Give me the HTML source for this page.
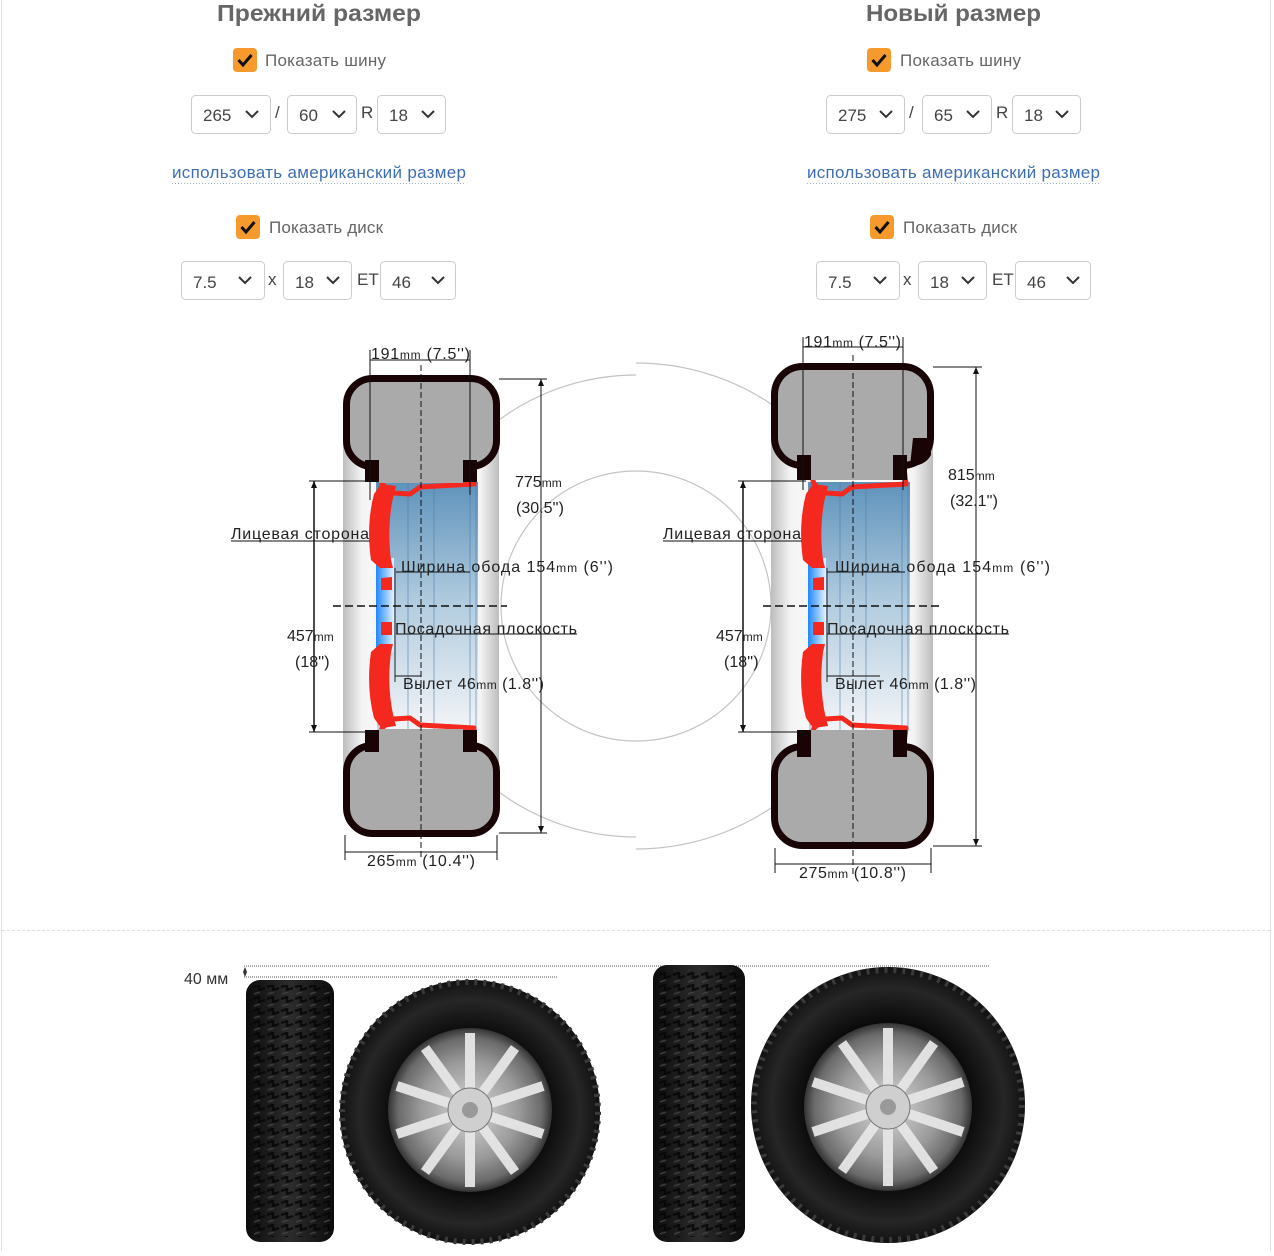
<!DOCTYPE html>
<html><head><meta charset="utf-8"><style>
html,body{margin:0;padding:0;background:#fff;}
body{width:1274px;height:1251px;overflow:hidden;position:relative;font-family:"Liberation Sans",sans-serif;}
</style></head><body>
<svg width="1274" height="1251" viewBox="0 0 1274 1251" xmlns="http://www.w3.org/2000/svg" font-family="Liberation Sans, sans-serif">
<defs>
<linearGradient id="side" x1="0" x2="1" y1="0" y2="0"><stop offset="0" stop-color="#bdbdbd"/><stop offset="0.12" stop-color="#f4f4f4"/><stop offset="0.5" stop-color="#fff"/><stop offset="0.88" stop-color="#f4f4f4"/><stop offset="1" stop-color="#bdbdbd"/></linearGradient>
<linearGradient id="blue" x1="0" x2="0" y1="0" y2="1"><stop offset="0" stop-color="#5f93bb"/><stop offset="0.5" stop-color="#b3cde0"/><stop offset="1" stop-color="#f2f4f7"/></linearGradient>
<linearGradient id="bb" x1="0" x2="1" y1="0" y2="0"><stop offset="0" stop-color="#1e88ff"/><stop offset="1" stop-color="#e6f2ff"/></linearGradient>
<radialGradient id="rim" cx="0.5" cy="0.5" r="0.5"><stop offset="0" stop-color="#d8d8d8"/><stop offset="0.6" stop-color="#9a9a9a"/><stop offset="0.88" stop-color="#6a6a6a"/><stop offset="1" stop-color="#333"/></radialGradient>
<radialGradient id="tyre" cx="0.5" cy="0.5" r="0.5"><stop offset="0.6" stop-color="#0a0a0a"/><stop offset="0.85" stop-color="#262626"/><stop offset="1" stop-color="#111"/></radialGradient>
<linearGradient id="tread" x1="0" x2="1"><stop offset="0" stop-color="#0c0c0c"/><stop offset="0.5" stop-color="#2c2c2c"/><stop offset="1" stop-color="#0c0c0c"/></linearGradient>
<pattern id="tp" width="14" height="12" patternUnits="userSpaceOnUse"><path d="M1 3 L7 1 L7 6 L13 4" stroke="#050505" stroke-width="2.5" fill="none"/><path d="M2 10 L8 8" stroke="#444" stroke-width="1.5"/></pattern>
<g id="wheel">
 <rect x="376" y="482" width="102" height="248" fill="url(#blue)"/>
 <g stroke="#4b79a8" stroke-width="0.8" opacity="0.7"><line x1="378" y1="482" x2="378" y2="730"/><line x1="408" y1="482" x2="408" y2="730"/><line x1="434" y1="482" x2="434" y2="730"/><line x1="470" y1="482" x2="470" y2="730"/><line x1="476" y1="482" x2="476" y2="730"/></g>
 <rect x="376" y="558" width="18" height="94" fill="url(#bb)"/>
 <g fill="none" stroke="#f4281e" stroke-width="5" stroke-linejoin="round">
  <path d="M472 468 L474 484 L420 487 L410 494 L393 493 L382 484 L378 470"/>
  <path d="M472 744 L474 728 L420 725 L410 718 L393 719 L382 728 L378 742"/>
 </g>
 <g fill="#f4281e">
  <path d="M381 484 L396 486 Q386 520 391 560 L393 568 L380 568 L371 560 Q366 525 374 494 Z"/>
  <path d="M381 728 L396 726 Q386 692 391 652 L393 644 L380 644 L371 652 Q366 687 374 718 Z"/>
  <path d="M381 578 L392 577 L392 590 L381 590 Z"/>
  <path d="M381 622 L392 622 L392 635 L381 635 Z"/>
 </g>
 <line x1="395" y1="568" x2="395" y2="682" stroke="#222" stroke-width="1"/>
</g>
</defs>

<line x1="1.5" y1="0" x2="1.5" y2="1251" stroke="#e3e3e3"/>
<line x1="1270.5" y1="0" x2="1270.5" y2="1251" stroke="#e3e3e3"/>
<line x1="2" y1="930.5" x2="1270" y2="930.5" stroke="#ddd" stroke-dasharray="3,2"/>

<g font-weight="bold" font-size="23" fill="#666">
<text x="217" y="21" textLength="204" lengthAdjust="spacingAndGlyphs">Прежний размер</text>
<text x="866" y="21" textLength="175" lengthAdjust="spacingAndGlyphs">Новый размер</text>
</g>

<g font-size="17" fill="#666">
 <rect x="233" y="48" width="24" height="24" rx="4" fill="#f79a2d"/><path d="M238.5 60 L243 65 L251.5 55" stroke="#111" stroke-width="3" fill="none"/>
 <text x="265" y="66" textLength="121">Показать шину</text>
 <rect x="236" y="215" width="24" height="24" rx="4" fill="#f79a2d"/><path d="M241.5 227 L246 232 L254.5 222" stroke="#111" stroke-width="3" fill="none"/>
 <text x="269" y="233" textLength="114">Показать диск</text>
 <rect x="867" y="48" width="24" height="24" rx="4" fill="#f79a2d"/><path d="M872.5 60 L877 65 L885.5 55" stroke="#111" stroke-width="3" fill="none"/>
 <text x="900" y="66" textLength="121">Показать шину</text>
 <rect x="870" y="215" width="24" height="24" rx="4" fill="#f79a2d"/><path d="M875.5 227 L880 232 L888.5 222" stroke="#111" stroke-width="3" fill="none"/>
 <text x="903" y="233" textLength="114">Показать диск</text>
</g>
<g fill="#fff" stroke="#ccc">
 <rect x="191.5" y="95.5" width="79" height="38" rx="4"/><rect x="287.5" y="95.5" width="69" height="38" rx="4"/><rect x="377.5" y="95.5" width="68" height="38" rx="4"/>
 <rect x="181.5" y="261.5" width="83" height="38" rx="4"/><rect x="283.5" y="261.5" width="68" height="38" rx="4"/><rect x="380.5" y="261.5" width="75" height="38" rx="4"/>
 <rect x="826.5" y="95.5" width="78" height="38" rx="4"/><rect x="922.5" y="95.5" width="69" height="38" rx="4"/><rect x="1012.5" y="95.5" width="68" height="38" rx="4"/>
 <rect x="816.5" y="261.5" width="83" height="38" rx="4"/><rect x="918.5" y="261.5" width="68" height="38" rx="4"/><rect x="1015.5" y="261.5" width="75" height="38" rx="4"/>
</g>
<g font-size="17" fill="#444">
 <text x="203" y="121">265</text><text x="299" y="121">60</text><text x="389" y="121">18</text>
 <text x="193" y="288">7.5</text><text x="295" y="288">18</text><text x="392" y="288">46</text>
 <text x="838" y="121">275</text><text x="934" y="121">65</text><text x="1024" y="121">18</text>
 <text x="828" y="288">7.5</text><text x="930" y="288">18</text><text x="1027" y="288">46</text>
 <text x="275" y="118">/</text><text x="361" y="118">R</text><text x="268" y="285">x</text><text x="357" y="285">ET</text>
 <text x="909" y="118">/</text><text x="996" y="118">R</text><text x="903" y="285">x</text><text x="992" y="285">ET</text>
</g>
<g fill="none" stroke="#333" stroke-width="2">
 <path d="M246 111 L252 117 L258 111"/><path d="M333 111 L339 117 L345 111"/><path d="M422 111 L428 117 L434 111"/>
 <path d="M239 277 L245 283 L251 277"/><path d="M327 277 L333 283 L339 277"/><path d="M432 277 L438 283 L444 277"/>
 <path d="M880 111 L886 117 L892 111"/><path d="M967 111 L973 117 L979 111"/><path d="M1056 111 L1062 117 L1068 111"/>
 <path d="M874 277 L880 283 L886 277"/><path d="M962 277 L968 283 L974 277"/><path d="M1067 277 L1073 283 L1079 277"/>
</g>
<g font-size="17" fill="#3d6eb4">
 <text x="172" y="178" textLength="294">использовать американский размер</text>
 <text x="807" y="178" textLength="293">использовать американский размер</text>
</g>
<line x1="172" y1="183.5" x2="466" y2="183.5" stroke="#9bb3d6" stroke-dasharray="1,2"/>
<line x1="807" y1="183.5" x2="1100" y2="183.5" stroke="#9bb3d6" stroke-dasharray="1,2"/>

<g fill="none" stroke="#c4c4c4" stroke-width="1.2">
 <path d="M636 375 A231 231 0 0 0 636 837"/>
 <path d="M636 363 A243 243 0 0 1 636 849"/>
 <path d="M636 471 A135 135 0 0 0 636 741"/>
 <path d="M636 471 A135 135 0 0 1 636 741"/>
</g>

<rect x="343" y="420" width="156" height="370" fill="url(#side)"/>
<use href="#wheel"/>
<rect x="346.5" y="378.5" width="150" height="88" rx="26" fill="#aaa" stroke="#180404" stroke-width="7"/>
<rect x="346.5" y="745.5" width="150" height="88" rx="26" fill="#aaa" stroke="#180404" stroke-width="7"/>
<g fill="#180404"><rect x="365" y="460" width="14" height="22"/><rect x="463" y="460" width="14" height="22"/><rect x="365" y="730" width="14" height="22"/><rect x="463" y="730" width="14" height="22"/></g>
<rect x="379" y="460" width="84" height="23" fill="#aaa"/><rect x="379" y="729" width="84" height="23" fill="#aaa"/>

<rect x="771" y="410" width="162" height="390" fill="url(#side)"/>
<use href="#wheel" x="432"/>
<rect x="774.5" y="366.5" width="156" height="99" rx="28" fill="#aaa" stroke="#180404" stroke-width="7"/>
<rect x="774.5" y="746.5" width="156" height="99" rx="28" fill="#aaa" stroke="#180404" stroke-width="7"/>
<path d="M913 438 L931 438 L931 455 Q925 466 910 466 Z" fill="#180404"/>
<g fill="#180404"><rect x="797" y="455" width="14" height="25"/><rect x="893" y="455" width="14" height="25"/><rect x="797" y="730" width="14" height="27"/><rect x="893" y="730" width="14" height="27"/></g>
<rect x="811" y="455" width="82" height="25" fill="#aaa"/><rect x="811" y="730" width="82" height="26" fill="#aaa"/>

<g stroke="#111" stroke-width="1" fill="none">
 <line x1="421" y1="365" x2="421" y2="860" stroke-dasharray="6,3"/>
 <line x1="853" y1="355" x2="853" y2="875" stroke-dasharray="6,3"/>
 <line x1="333" y1="606" x2="507" y2="606" stroke-dasharray="8,4" stroke-width="1.5"/>
 <line x1="763" y1="606" x2="940" y2="606" stroke-dasharray="8,4" stroke-width="1.5"/>
 <line x1="370" y1="350" x2="370" y2="500"/><line x1="470" y1="350" x2="470" y2="495"/>
 <line x1="370" y1="360" x2="470" y2="360"/>
 <line x1="499" y1="379" x2="547" y2="379"/><line x1="499" y1="833" x2="547" y2="833"/>
 <line x1="541" y1="379" x2="541" y2="833"/>
 <line x1="309" y1="481" x2="375" y2="481"/><line x1="309" y1="732" x2="375" y2="732"/>
 <line x1="314" y1="481" x2="314" y2="732" stroke-width="1.5"/>
 <line x1="231" y1="541" x2="370" y2="541"/>
 <line x1="396" y1="572" x2="470" y2="572"/>
 <line x1="396" y1="634" x2="577" y2="634"/>
 <line x1="395" y1="676" x2="421" y2="676"/>
 <line x1="345" y1="835" x2="345" y2="860"/><line x1="497" y1="835" x2="497" y2="860"/>
 <line x1="345" y1="852" x2="497" y2="852"/>
 <line x1="803" y1="337" x2="803" y2="490"/><line x1="903" y1="337" x2="903" y2="490"/>
 <line x1="803" y1="347" x2="903" y2="347"/>
 <line x1="933" y1="367" x2="982" y2="367"/><line x1="933" y1="846" x2="982" y2="846"/>
 <line x1="976" y1="367" x2="976" y2="846"/>
 <line x1="738" y1="481" x2="806" y2="481"/><line x1="738" y1="732" x2="806" y2="732"/>
 <line x1="743" y1="481" x2="743" y2="732" stroke-width="1.5"/>
 <line x1="663" y1="541" x2="802" y2="541"/>
 <line x1="827" y1="572" x2="905" y2="572"/>
 <line x1="827" y1="634" x2="1009" y2="634"/>
 <line x1="827" y1="676" x2="880" y2="676"/>
 <line x1="775" y1="848" x2="775" y2="873"/><line x1="931" y1="848" x2="931" y2="873"/>
 <line x1="775" y1="864" x2="931" y2="864"/>
</g>
<g fill="#111">
 <path d="M541 379 l-3 7 h6z"/><path d="M541 833 l-3 -7 h6z"/>
 <path d="M314 481 l-3 7 h6z"/><path d="M314 732 l-3 -7 h6z"/>
 <path d="M976 367 l-3 7 h6z"/><path d="M976 846 l-3 -7 h6z"/>
 <path d="M743 481 l-3 7 h6z"/><path d="M743 732 l-3 -7 h6z"/>
</g>
<g font-size="16" fill="#222">
 <text x="371" y="359" textLength="99">191<tspan font-size="12">mm</tspan> (7.5'')</text>
 <text x="515" y="487">775<tspan font-size="12">mm</tspan></text><text x="516" y="513">(30.5'')</text>
 <text x="287" y="641">457<tspan font-size="12">mm</tspan></text><text x="295" y="667">(18'')</text>
 <text x="231" y="539" textLength="138">Лицевая сторона</text>
 <text x="401" y="572" textLength="212">Ширина обода 154<tspan font-size="12">mm</tspan> (6'')</text>
 <text x="395" y="634" textLength="182">Посадочная плоскость</text>
 <text x="403" y="689" textLength="141">Вылет 46<tspan font-size="12">mm</tspan> (1.8'')</text>
 <text x="367" y="866" textLength="108">265<tspan font-size="12">mm</tspan> (10.4'')</text>

 <text x="804" y="347" textLength="97">191<tspan font-size="12">mm</tspan> (7.5'')</text>
 <text x="948" y="480">815<tspan font-size="12">mm</tspan></text><text x="950" y="506">(32.1'')</text>
 <text x="716" y="641">457<tspan font-size="12">mm</tspan></text><text x="724" y="667">(18'')</text>
 <text x="663" y="539" textLength="138">Лицевая сторона</text>
 <text x="835" y="572" textLength="215">Ширина обода  154<tspan font-size="12">mm</tspan> (6'')</text>
 <text x="827" y="634" textLength="182">Посадочная плоскость</text>
 <text x="835" y="689" textLength="141">Вылет 46<tspan font-size="12">mm</tspan> (1.8'')</text>
 <text x="799" y="878" textLength="107">275<tspan font-size="12">mm</tspan> (10.8'')</text>
</g>

<g stroke="#555" stroke-width="1" stroke-dasharray="1,1">
 <line x1="244" y1="966" x2="990" y2="966"/>
 <line x1="244" y1="977" x2="558" y2="977"/>
</g>
<path d="M245 967 l-2 5 l2 5 l2 -5z" fill="#333"/>
<text x="184" y="984" font-size="16" fill="#333">40 мм</text>

<g>
 <rect x="246" y="980" width="88" height="262" rx="14" fill="url(#tread)"/>
 <rect x="250" y="985" width="80" height="252" rx="10" fill="url(#tp)" opacity="0.8"/>
 <ellipse cx="470" cy="1112" rx="130" ry="132" fill="url(#tyre)"/>
 <ellipse cx="470" cy="1112" rx="128" ry="130" fill="none" stroke="#3a3a3a" stroke-width="6" stroke-dasharray="3,6"/>
 <circle cx="470" cy="1110" r="82" fill="url(#rim)"/>
 <g stroke="#e6e6e6" stroke-width="10" opacity="0.95">
  <line x1="470" y1="1110" x2="470" y2="1033"/><line x1="470" y1="1110" x2="515" y2="1048"/><line x1="470" y1="1110" x2="543" y2="1086"/><line x1="470" y1="1110" x2="543" y2="1134"/><line x1="470" y1="1110" x2="515" y2="1172"/><line x1="470" y1="1110" x2="470" y2="1187"/><line x1="470" y1="1110" x2="425" y2="1172"/><line x1="470" y1="1110" x2="397" y2="1134"/><line x1="470" y1="1110" x2="397" y2="1086"/><line x1="470" y1="1110" x2="425" y2="1048"/>
 </g>
 <circle cx="470" cy="1110" r="22" fill="#cfcfcf" stroke="#777"/>
 <circle cx="470" cy="1110" r="8" fill="#999"/>

 <rect x="653" y="965" width="92" height="277" rx="14" fill="url(#tread)"/>
 <rect x="657" y="970" width="84" height="267" rx="10" fill="url(#tp)" opacity="0.8"/>
 <ellipse cx="888" cy="1105" rx="137" ry="138" fill="url(#tyre)"/>
 <ellipse cx="888" cy="1105" rx="134" ry="135" fill="none" stroke="#3a3a3a" stroke-width="6" stroke-dasharray="3,6"/>
 <circle cx="888" cy="1107" r="84" fill="url(#rim)"/>
 <g stroke="#e6e6e6" stroke-width="10" opacity="0.95">
  <line x1="888" y1="1107" x2="888" y2="1028"/><line x1="888" y1="1107" x2="934" y2="1043"/><line x1="888" y1="1107" x2="963" y2="1082"/><line x1="888" y1="1107" x2="963" y2="1132"/><line x1="888" y1="1107" x2="934" y2="1171"/><line x1="888" y1="1107" x2="888" y2="1186"/><line x1="888" y1="1107" x2="842" y2="1171"/><line x1="888" y1="1107" x2="813" y2="1132"/><line x1="888" y1="1107" x2="813" y2="1082"/><line x1="888" y1="1107" x2="842" y2="1043"/>
 </g>
 <circle cx="888" cy="1107" r="22" fill="#cfcfcf" stroke="#777"/>
 <circle cx="888" cy="1107" r="8" fill="#999"/>
</g>
</svg>
</body></html>
